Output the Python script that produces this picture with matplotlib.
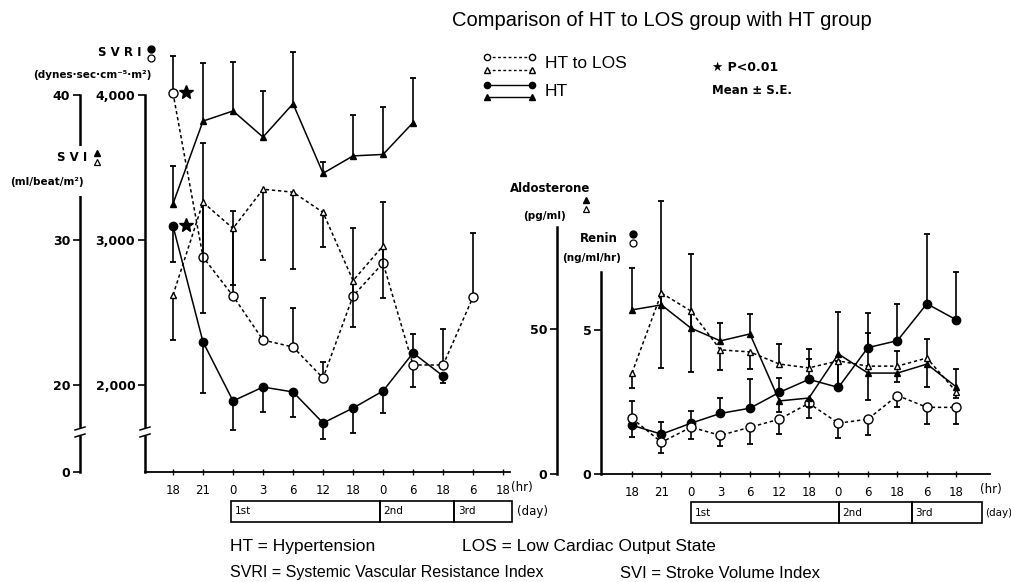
import numpy as np
import matplotlib
matplotlib.use("Agg")
import matplotlib.pyplot as plt
from matplotlib.lines import Line2D
from matplotlib.patches import Rectangle
from matplotlib.transforms import blended_transform_factory, offset_copy

# time axis (same for both panels)
hr_labels = ["18", "21", "0", "3", "6", "12", "18", "0", "6", "18", "6", "18"]
day_labels = ["1st", "2nd", "3rd"]

# left panel: SVRI (dynes.sec.cm-5.m2) and SVI (ml/beat/m2), SE signed (+ up / - down)
svri_los = [4014, 2883, 2614, 2310, 2262, 2048, 2614, 2841, 2138, 2138, 2607]
svri_los_se = [255, 786, 586, 290, 269, 111, 469, 421, -152, 248, 441]
svri_ht = [3097, 2297, 1890, 1986, 1952, 1738, 1841, 1959, 2221, 2062]
svri_ht_se = [-250, -352, -200, -172, -173, -110, -172, -152, 131, -50]
svi_los = [26.2, 32.6, 30.8, 33.5, 33.3, 31.9, 27.2, 29.6]
svi_los_se = [-3.1, -7.6, -3.9, -4.9, -5.3, -2.4, -3.2, -3.6]
svi_ht = [32.5, 38.2, 38.9, 37.1, 39.4, 34.6, 35.8, 35.9, 38.1]
svi_ht_se = [2.6, 4.0, 3.4, 3.2, 3.6, 0.8, 2.8, 3.3, 3.1]

# right panel: renin (ng/ml/hr) and aldosterone (pg/ml)
renin_ht = [1.69, 1.38, 1.76, 2.10, 2.28, 2.83, 3.28, 3.00, 4.38, 4.62, 5.90, 5.34]
renin_ht_se = [-0.41, 0.41, 0.44, 0.52, 1.0, 0.48, 0.69, 0.9, 1.21, 1.28, 2.4, 1.66]
renin_los = [1.93, 1.10, 1.62, 1.34, 1.62, 1.90, 2.45, 1.76, 1.90, 2.72, 2.31, 2.31]
renin_los_se = [0.59, -0.38, -0.42, -0.37, -0.59, -0.52, -0.52, -0.52, -0.56, -0.41, -0.59, -0.59]
aldo_ht = [56.6, 58.3, 50.3, 45.9, 48.3, 25.2, 26.2, 41.4, 34.8, 34.8, 37.9, 30.0]
aldo_ht_se = [14.4, 35.7, 25.7, 6.1, 6.9, -3.8, -3, 14.6, -9.3, -3, -7.9, 6.2]
aldo_los = [34.8, 62.4, 56.2, 42.8, 42.1, 37.9, 36.6, 39.0, 37.2, 37.2, 40.0, 28.3]
aldo_los_se = [-5.1, -25.8, -21.0, -6.9, -5.9, 6.9, 6.6, -8.6, 11.4, 5.2, 6.6, -2]

W, H = 1011, 582
plt.rcParams['font.family'] = ['DejaVu Sans']
fig = plt.figure(figsize=(W / 100, H / 100), dpi=100)


def fx(x):
    return x / W


def fy(y):
    return 1 - y / H


def rect(l, t, r, b):
    return [fx(l), fy(b), fx(r) - fx(l), fy(t) - fy(b)]


def series(ax, y, se, marker, filled, dotted, ms):
    x = np.arange(len(y))
    y = np.asarray(y, float)
    end = y + np.asarray(se, float)
    ls = (0, (2.2, 1.8)) if dotted else '-'
    ax.plot(x, y, color='black', lw=1.1, ls=ls, clip_on=False, zorder=2)
    ax.vlines(x, y, end, color='black', lw=1.2, clip_on=False, zorder=1)
    ax.plot(x, end, ls='none', marker='_', ms=5, mew=1.3, color='black', clip_on=False)
    ax.plot(x, y, ls='none', marker=marker, ms=ms, mfc='black' if filled else 'white',
            mec='black', mew=1.0, clip_on=False, zorder=3)


def style_x(ax):
    ax.set_xticks(range(len(hr_labels)))
    ax.set_xticklabels(hr_labels, fontsize=8.5)
    ax.tick_params(axis='x', direction='inout', length=4, width=1, pad=7)
    for s in ['top', 'right']:
        ax.spines[s].set_visible(False)
    ax.spines['bottom'].set_linewidth(1.3)
    ax.patch.set_alpha(0)


def style_y(ax, ticks, labels):
    ax.set_yticks(ticks)
    ax.set_yticklabels(labels, fontsize=9, fontweight='bold')
    ax.tick_params(axis='y', direction='out', length=5, width=1.2, pad=2)
    ax.spines['left'].set_linewidth(1.8)


def day_boxes(ax, edges, top, bot, lab_x, lab_size):
    tr = blended_transform_factory(ax.transData, fig.transFigure)
    for i in range(len(edges) - 1):
        ax.add_patch(Rectangle((edges[i], fy(bot)), edges[i + 1] - edges[i], fy(top) - fy(bot),
                               transform=tr, fill=False, lw=1.2, ec='black', clip_on=False))
        ax.text(edges[i] + 0.12, fy((top + bot) / 2), day_labels[i], transform=tr,
                fontsize=7.5, va='center', ha='left')
    fig.text(fx(lab_x), fy((top + bot) / 2), "(day)", fontsize=lab_size, va='center')


def axis_break(x, y):
    fig.add_artist(Rectangle((fx(x - 4), fy(y + 4)), fx(8), 8 / H, transform=fig.transFigure,
                             fc='white', ec='none', zorder=5))
    for dy in (-3.5, 3.5):
        fig.add_artist(Line2D([fx(x - 5), fx(x + 5)], [fy(y + dy + 1.5), fy(y + dy - 1.5)],
                              transform=fig.transFigure, color='black', lw=1.1, zorder=6))


def stacked(x, y, marker):
    fig.add_artist(Line2D([fx(x)], [fy(y)], marker=marker, ms=5, mfc='black', mec='black',
                          transform=fig.transFigure, zorder=6))
    fig.add_artist(Line2D([fx(x)], [fy(y + 9)], marker=marker, ms=5, mfc='white', mec='black',
                          mew=0.9, transform=fig.transFigure, zorder=6))


# ---------------- left panel ----------------
axL = fig.add_axes(rect(145, 95, 510, 472))
axL.set_xlim(-0.933, 11.23)
axL.set_ylim(1400, 4000)
style_x(axL)
style_y(axL, [2000, 3000, 4000], ["2,000", "3,000", "4,000"])

axS = fig.add_axes(rect(145, 95, 510, 472))
axS.set_xlim(-0.933, 11.23)
axS.set_ylim(14, 40)
axS.patch.set_alpha(0)
for s in ['top', 'right', 'bottom']:
    axS.spines[s].set_visible(False)
axS.spines['left'].set_position(('outward', 65 * 0.72))
axS.set_xticks([])
style_y(axS, [14, 20, 30, 40], ["0", "20", "30", "40"])

series(axL, svri_ht, svri_ht_se, 'o', True, False, 6)
series(axL, svri_los, svri_los_se, 'o', False, True, 6.5)
series(axS, svi_ht, svi_ht_se, '^', True, False, 4)
series(axS, svi_los, svi_los_se, '^', False, True, 4.5)

for val in (svri_los[0], svri_ht[0]):
    tr = offset_copy(axL.transData, fig=fig, x=13, y=1, units='dots')
    axL.plot(0, val, marker='*', ms=10, color='black', transform=tr, clip_on=False)

axis_break(80, 432)
axis_break(145, 432)

# gap in the SVI axis for its label
fig.add_artist(Rectangle((fx(60), fy(196)), fx(40), 50 / H, transform=fig.transFigure,
                         fc='white', ec='none', zorder=5))
fig.text(fx(57), fy(158), "S V I", fontsize=8.5, fontweight='bold', va='center', zorder=7)
stacked(97, 153, '^')
fig.text(fx(10), fy(182), "(ml/beat/m²)", fontsize=7.5, fontweight='bold', va='center', zorder=7)
fig.text(fx(98), fy(52), "S V R I", fontsize=8.5, fontweight='bold', va='center')
stacked(151, 49, 'o')
fig.text(fx(33), fy(75), "(dynes·sec·cm⁻⁵·m²)", fontsize=7.5, fontweight='bold', va='center')
fig.text(fx(511), fy(488), "(hr)", fontsize=8.5, va='center')
day_boxes(axL, [1.93, 6.9, 9.37, 11.3], 501, 522, 517, 8.5)

# ---------------- right panel ----------------
axR = fig.add_axes(rect(601, 272, 990, 474))
axR.set_xlim(-1.05, 12.14)
axR.set_ylim(0, 7)
style_x(axR)
style_y(axR, [0, 5], ["0", "5"])

axA = fig.add_axes(rect(601, 227, 990, 474))
axA.set_xlim(-1.05, 12.14)
axA.set_ylim(0, (474 - 227) / 2.9)
axA.patch.set_alpha(0)
for s in ['top', 'right', 'bottom']:
    axA.spines[s].set_visible(False)
axA.spines['left'].set_position(('outward', 44 * 0.72))
axA.set_xticks([])
style_y(axA, [0, 50], ["0", "50"])

series(axR, renin_ht, renin_ht_se, 'o', True, False, 6)
series(axR, renin_los, renin_los_se, 'o', False, True, 6.5)
series(axA, aldo_ht, aldo_ht_se, '^', True, False, 4)
series(axA, aldo_los, aldo_los_se, '^', False, True, 4.5)

fig.text(fx(510), fy(188), "Aldosterone", fontsize=8.5, fontweight='bold', va='center')
stacked(586, 200, '^')
fig.text(fx(523), fy(216), "(pg/ml)", fontsize=7.5, fontweight='bold', va='center')
fig.text(fx(580), fy(239), "Renin", fontsize=8.5, fontweight='bold', va='center')
stacked(633, 234, 'o')
fig.text(fx(562), fy(258), "(ng/ml/hr)", fontsize=7.5, fontweight='bold', va='center')
fig.text(fx(980), fy(489), "(hr)", fontsize=8.5, va='center')
day_boxes(axR, [2.0, 7.02, 9.49, 11.86], 502, 523, 985, 7.5)

# ---------------- title, legend, notes ----------------
sans = ['Liberation Sans', 'DejaVu Sans']
fig.text(fx(452), fy(20), "Comparison of HT to LOS group with HT group", fontsize=14.5,
         family=sans, va='center')


def legend_line(y, marker, filled, dotted):
    fig.add_artist(Line2D([fx(487), fx(532)], [fy(y), fy(y)], transform=fig.transFigure,
                          color='black', lw=1, ls=(0, (2, 1.8)) if dotted else '-',
                          marker=marker, ms=4.5, mfc='black' if filled else 'white', mec='black'))


legend_line(57, 'o', False, True)
legend_line(70, '^', False, True)
legend_line(85, 'o', True, False)
legend_line(97, '^', True, False)
fig.text(fx(545), fy(63), "HT to LOS", fontsize=12.5, family=sans, va='center')
fig.text(fx(545), fy(91), "HT", fontsize=12.5, family=sans, va='center')
fig.text(fx(712), fy(67), "★ P<0.01", fontsize=9, fontweight='bold', va='center')
fig.text(fx(712), fy(91), "Mean ± S.E.", fontsize=8.5, fontweight='bold', va='center')

fig.text(fx(230), fy(546), "HT = Hypertension", fontsize=12.5, family=sans, va='center')
fig.text(fx(462), fy(546), "LOS = Low Cardiac Output State", fontsize=12.5, family=sans, va='center')
fig.text(fx(230), fy(573), "SVRI = Systemic Vascular Resistance Index", fontsize=11.5, family=sans,
         va='center')
fig.text(fx(620), fy(573), "SVI = Stroke Volume Index", fontsize=12, family=sans, va='center')

fig.savefig("out.png", dpi=100)
